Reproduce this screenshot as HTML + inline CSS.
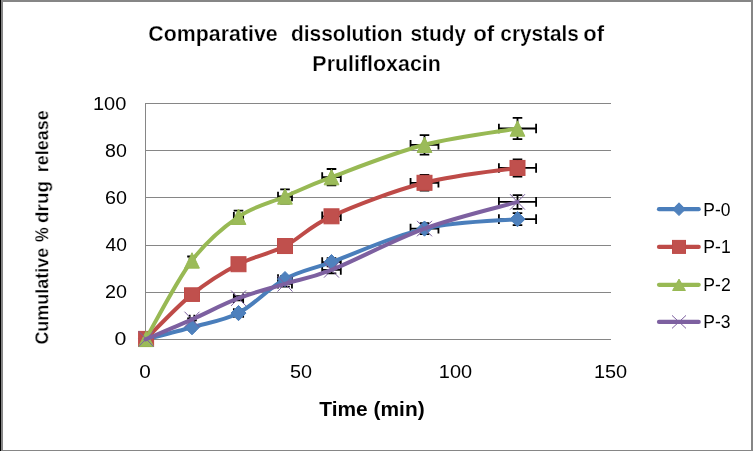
<!DOCTYPE html>
<html><head><meta charset="utf-8"><title>Chart</title>
<style>
html,body{margin:0;padding:0;background:#fff;overflow:hidden}
body{width:753px;height:451px;position:relative;font-family:"Liberation Sans",sans-serif}
</style></head><body>
<svg width="753" height="451" viewBox="0 0 753 451" style="position:absolute;left:0;top:0;font-family:'Liberation Sans',sans-serif">
<defs><filter id="gs" filterUnits="userSpaceOnUse" x="0" y="0" width="753" height="451" color-interpolation-filters="sRGB"><feColorMatrix type="saturate" values="0"/></filter></defs>
<rect x="0" y="0" width="753" height="451" fill="#ffffff"/>
<rect x="0" y="0" width="753" height="2" fill="#868686"/>
<rect x="1" y="0" width="2" height="451" fill="#868686"/>
<rect x="751" y="0" width="2" height="451" fill="#868686"/>
<rect x="0" y="450" width="753" height="1" fill="#868686"/>
<rect x="0" y="0" width="1" height="451" fill="#000000"/>
<line x1="145.5" y1="339.5" x2="611.0" y2="339.5" stroke="#868686" stroke-width="1"/>
<line x1="145.5" y1="292.5" x2="611.0" y2="292.5" stroke="#868686" stroke-width="1"/>
<line x1="145.5" y1="245.5" x2="611.0" y2="245.5" stroke="#868686" stroke-width="1"/>
<line x1="145.5" y1="197.5" x2="611.0" y2="197.5" stroke="#868686" stroke-width="1"/>
<line x1="145.5" y1="150.5" x2="611.0" y2="150.5" stroke="#868686" stroke-width="1"/>
<line x1="145.5" y1="103.5" x2="611.0" y2="103.5" stroke="#868686" stroke-width="1"/>
<line x1="145.5" y1="103.0" x2="145.5" y2="340.0" stroke="#868686" stroke-width="1"/>
<path d="M189.68,327.23 H194.32 M189.68,322.43 V332.03 M194.32,322.43 V332.03 M192.00,326.61 V327.84 M187.20,326.61 H196.80 M187.20,327.84 H196.80 M233.85,313.07 H243.15 M233.85,308.27 V317.87 M243.15,308.27 V317.87 M238.50,311.75 V314.39 M233.70,311.75 H243.30 M233.70,314.39 H243.30 M278.02,279.08 H291.98 M278.02,274.28 V283.88 M291.98,274.28 V283.88 M285.00,276.06 V282.10 M280.20,276.06 H289.80 M280.20,282.10 H289.80 M322.20,262.09 H340.80 M322.20,257.29 V266.89 M340.80,257.29 V266.89 M331.50,258.22 V265.96 M326.70,258.22 H336.30 M326.70,265.96 H336.30 M410.55,228.58 H438.45 M410.55,223.78 V233.38 M438.45,223.78 V233.38 M424.50,223.03 V234.13 M419.70,223.03 H429.30 M419.70,234.13 H429.30 M498.90,219.14 H536.10 M498.90,214.34 V223.94 M536.10,214.34 V223.94 M517.50,213.12 V225.16 M512.70,213.12 H522.30 M512.70,225.16 H522.30 M189.68,294.42 H194.32 M189.68,289.62 V299.22 M194.32,289.62 V299.22 M192.00,292.17 V296.68 M187.20,292.17 H196.80 M187.20,296.68 H196.80 M233.85,264.22 H243.15 M233.85,259.42 V269.02 M243.15,259.42 V269.02 M238.50,260.45 V267.98 M233.70,260.45 H243.30 M233.70,267.98 H243.30 M278.02,246.04 H291.98 M278.02,241.24 V250.84 M291.98,241.24 V250.84 M285.00,241.37 V250.72 M280.20,241.37 H289.80 M280.20,250.72 H289.80 M322.20,216.31 H340.80 M322.20,211.51 V221.11 M340.80,211.51 V221.11 M331.50,210.15 V222.47 M326.70,210.15 H336.30 M326.70,222.47 H336.30 M410.55,182.80 H438.45 M410.55,178.00 V187.60 M438.45,178.00 V187.60 M424.50,174.96 V190.63 M419.70,174.96 H429.30 M419.70,190.63 H429.30 M498.90,167.93 H536.10 M498.90,163.13 V172.73 M536.10,163.13 V172.73 M517.50,159.35 V176.51 M512.70,159.35 H522.30 M512.70,176.51 H522.30 M189.68,260.44 H194.32 M189.68,255.64 V265.24 M194.32,255.64 V265.24 M192.00,256.49 V264.39 M187.20,256.49 H196.80 M187.20,264.39 H196.80 M233.85,216.78 H243.15 M233.85,211.98 V221.58 M243.15,211.98 V221.58 M238.50,210.64 V222.92 M233.70,210.64 H243.30 M233.70,222.92 H243.30 M278.02,196.48 H291.98 M278.02,191.68 V201.28 M291.98,191.68 V201.28 M285.00,189.33 V203.63 M280.20,189.33 H289.80 M280.20,203.63 H289.80 M322.20,177.13 H340.80 M322.20,172.33 V181.93 M340.80,172.33 V181.93 M331.50,169.01 V185.25 M326.70,169.01 H336.30 M326.70,185.25 H336.30 M410.55,144.80 H438.45 M410.55,140.00 V149.60 M438.45,140.00 V149.60 M424.50,135.06 V154.54 M419.70,135.06 H429.30 M419.70,154.54 H429.30 M498.90,128.52 H536.10 M498.90,123.72 V133.32 M536.10,123.72 V133.32 M517.50,117.97 V139.07 M512.70,117.97 H522.30 M512.70,139.07 H522.30 M189.68,319.44 H194.32 M189.68,314.64 V324.24 M194.32,314.64 V324.24 M192.00,318.44 V320.44 M187.20,318.44 H196.80 M187.20,320.44 H196.80 M233.85,298.20 H243.15 M233.85,293.40 V303.00 M243.15,293.40 V303.00 M238.50,296.13 V300.26 M233.70,296.13 H243.30 M233.70,300.26 H243.30 M278.02,283.80 H291.98 M278.02,279.00 V288.60 M291.98,279.00 V288.60 M285.00,281.02 V286.59 M280.20,281.02 H289.80 M280.20,286.59 H289.80 M322.20,269.88 H340.80 M322.20,265.08 V274.68 M340.80,265.08 V274.68 M331.50,266.40 V273.36 M326.70,266.40 H336.30 M326.70,273.36 H336.30 M410.55,228.58 H438.45 M410.55,223.78 V233.38 M438.45,223.78 V233.38 M424.50,223.03 V234.13 M419.70,223.03 H429.30 M419.70,234.13 H429.30 M498.90,201.91 H536.10 M498.90,197.11 V206.71 M536.10,197.11 V206.71 M517.50,195.03 V208.79 M512.70,195.03 H522.30 M512.70,208.79 H522.30" fill="none" stroke="#000" stroke-width="1.8"/>
<path d="M145.50,339.50 C153.25,337.45 176.50,331.63 192.00,327.23 C207.50,322.82 223.00,321.09 238.50,313.07 C254.00,305.04 269.50,287.58 285.00,279.08 C300.50,270.59 308.25,270.51 331.50,262.09 C354.75,253.67 393.50,235.74 424.50,228.58 C455.50,221.42 502.00,220.71 517.50,219.14" fill="none" stroke="#4A7EBB" stroke-width="4" stroke-linecap="round" stroke-linejoin="round"/>
<path d="M146.10,331.30 L153.60,338.90 L146.10,346.50 L138.60,338.90 Z" fill="#4F81BD" stroke="#4A7EBB" stroke-width="1" stroke-linejoin="miter"/>
<path d="M192.00,319.63 L199.50,327.23 L192.00,334.83 L184.50,327.23 Z" fill="#4F81BD" stroke="#4A7EBB" stroke-width="1" stroke-linejoin="miter"/>
<path d="M238.50,305.47 L246.00,313.07 L238.50,320.67 L231.00,313.07 Z" fill="#4F81BD" stroke="#4A7EBB" stroke-width="1" stroke-linejoin="miter"/>
<path d="M285.00,271.48 L292.50,279.08 L285.00,286.68 L277.50,279.08 Z" fill="#4F81BD" stroke="#4A7EBB" stroke-width="1" stroke-linejoin="miter"/>
<path d="M331.50,254.49 L339.00,262.09 L331.50,269.69 L324.00,262.09 Z" fill="#4F81BD" stroke="#4A7EBB" stroke-width="1" stroke-linejoin="miter"/>
<path d="M424.50,220.98 L432.00,228.58 L424.50,236.18 L417.00,228.58 Z" fill="#4F81BD" stroke="#4A7EBB" stroke-width="1" stroke-linejoin="miter"/>
<path d="M517.50,211.54 L525.00,219.14 L517.50,226.74 L510.00,219.14 Z" fill="#4F81BD" stroke="#4A7EBB" stroke-width="1" stroke-linejoin="miter"/>
<path d="M145.50,339.50 C153.25,331.99 176.50,306.97 192.00,294.42 C207.50,281.88 223.00,272.28 238.50,264.22 C254.00,256.15 269.50,254.03 285.00,246.04 C300.50,238.06 308.25,226.85 331.50,216.31 C354.75,205.77 393.50,190.86 424.50,182.80 C455.50,174.73 502.00,170.41 517.50,167.93" fill="none" stroke="#BE4B48" stroke-width="4" stroke-linecap="round" stroke-linejoin="round"/>
<rect x="138.60" y="331.40" width="15.00" height="15.00" fill="#C0504D" stroke="#BE4B48" stroke-width="1"/>
<rect x="184.50" y="287.82" width="15.00" height="13.60" fill="#C0504D" stroke="#BE4B48" stroke-width="1"/>
<rect x="231.00" y="256.72" width="15.00" height="15.00" fill="#C0504D" stroke="#BE4B48" stroke-width="1"/>
<rect x="277.50" y="238.54" width="15.00" height="15.00" fill="#C0504D" stroke="#BE4B48" stroke-width="1"/>
<rect x="324.00" y="208.81" width="15.00" height="15.00" fill="#C0504D" stroke="#BE4B48" stroke-width="1"/>
<rect x="417.00" y="175.30" width="15.00" height="15.00" fill="#C0504D" stroke="#BE4B48" stroke-width="1"/>
<rect x="510.00" y="160.43" width="15.00" height="15.00" fill="#C0504D" stroke="#BE4B48" stroke-width="1"/>
<path d="M145.50,339.50 C153.25,326.32 176.50,280.89 192.00,260.44 C207.50,239.99 223.00,227.44 238.50,216.78 C254.00,206.12 269.50,203.09 285.00,196.48 C300.50,189.88 308.25,185.75 331.50,177.13 C354.75,168.52 393.50,152.90 424.50,144.80 C455.50,136.70 502.00,131.23 517.50,128.52" fill="none" stroke="#98B954" stroke-width="4" stroke-linecap="round" stroke-linejoin="round"/>
<path d="M146.10,331.20 L153.50,346.60 L138.70,346.60 Z" fill="#9BBB59" stroke="#98B954" stroke-width="1"/>
<path d="M192.00,252.74 L199.40,268.14 L184.60,268.14 Z" fill="#9BBB59" stroke="#98B954" stroke-width="1"/>
<path d="M238.50,209.08 L245.90,224.48 L231.10,224.48 Z" fill="#9BBB59" stroke="#98B954" stroke-width="1"/>
<path d="M285.00,188.78 L292.40,204.18 L277.60,204.18 Z" fill="#9BBB59" stroke="#98B954" stroke-width="1"/>
<path d="M331.50,169.43 L338.90,184.83 L324.10,184.83 Z" fill="#9BBB59" stroke="#98B954" stroke-width="1"/>
<path d="M424.50,137.10 L431.90,152.50 L417.10,152.50 Z" fill="#9BBB59" stroke="#98B954" stroke-width="1"/>
<path d="M517.50,120.82 L524.90,136.22 L510.10,136.22 Z" fill="#9BBB59" stroke="#98B954" stroke-width="1"/>
<path d="M145.50,339.50 C153.25,336.16 176.50,326.32 192.00,319.44 C207.50,312.56 223.00,304.14 238.50,298.20 C254.00,292.26 269.50,288.52 285.00,283.80 C300.50,279.08 308.25,279.08 331.50,269.88 C354.75,260.68 393.50,239.91 424.50,228.58 C455.50,217.25 502.00,206.36 517.50,201.91" fill="none" stroke="#7D60A0" stroke-width="4" stroke-linecap="round" stroke-linejoin="round"/>
<path d="M138.60,331.15 L153.60,346.65 M138.60,346.65 L153.60,331.15" fill="none" stroke="#7D60A0" stroke-width="1"/>
<path d="M184.50,311.69 L199.50,327.19 M184.50,327.19 L199.50,311.69" fill="none" stroke="#7D60A0" stroke-width="1"/>
<path d="M231.00,290.45 L246.00,305.95 M231.00,305.95 L246.00,290.45" fill="none" stroke="#7D60A0" stroke-width="1"/>
<path d="M277.50,276.05 L292.50,291.55 M277.50,291.55 L292.50,276.05" fill="none" stroke="#7D60A0" stroke-width="1"/>
<path d="M324.00,262.13 L339.00,277.63 M324.00,277.63 L339.00,262.13" fill="none" stroke="#7D60A0" stroke-width="1"/>
<path d="M417.00,220.83 L432.00,236.33 M417.00,236.33 L432.00,220.83" fill="none" stroke="#7D60A0" stroke-width="1"/>
<path d="M510.00,194.16 L525.00,209.66 M510.00,209.66 L525.00,194.16" fill="none" stroke="#7D60A0" stroke-width="1"/>
<line x1="659" y1="209.2" x2="698.7" y2="209.2" stroke="#4A7EBB" stroke-width="4.2" stroke-linecap="round"/>
<path d="M679.00,202.80 L685.30,209.20 L679.00,215.60 L672.70,209.20 Z" fill="#4F81BD" stroke="#4A7EBB" stroke-width="1" stroke-linejoin="miter"/>
<line x1="659" y1="246.9" x2="698.7" y2="246.9" stroke="#BE4B48" stroke-width="4.2" stroke-linecap="round"/>
<rect x="672.50" y="240.40" width="13.00" height="13.00" fill="#C0504D" stroke="#BE4B48" stroke-width="1"/>
<line x1="659" y1="284.8" x2="698.7" y2="284.8" stroke="#98B954" stroke-width="4.2" stroke-linecap="round"/>
<path d="M679.00,279.10 L685.40,290.50 L672.60,290.50 Z" fill="#9BBB59" stroke="#98B954" stroke-width="1"/>
<line x1="659" y1="321.9" x2="698.7" y2="321.9" stroke="#7D60A0" stroke-width="4.2" stroke-linecap="round"/>
<path d="M672.00,315.40 L686.00,328.40 M672.00,328.40 L686.00,315.40" fill="none" stroke="#7D60A0" stroke-width="1"/>
<g filter="url(#gs)">
<text x="114.55" y="345.15" font-size="17.60" textLength="11.88" lengthAdjust="spacingAndGlyphs" fill="#000">0</text>
<text x="104.91" y="298.05" font-size="17.60" textLength="21.97" lengthAdjust="spacingAndGlyphs" fill="#000">20</text>
<text x="105.47" y="250.75" font-size="17.60" textLength="21.40" lengthAdjust="spacingAndGlyphs" fill="#000">40</text>
<text x="104.91" y="203.75" font-size="17.60" textLength="21.97" lengthAdjust="spacingAndGlyphs" fill="#000">60</text>
<text x="105.07" y="157.05" font-size="17.60" textLength="21.81" lengthAdjust="spacingAndGlyphs" fill="#000">80</text>
<text x="92.90" y="109.55" font-size="17.60" textLength="33.37" lengthAdjust="spacingAndGlyphs" fill="#000">100</text>
<text x="139.37" y="378.05" font-size="17.60" textLength="11.53" lengthAdjust="spacingAndGlyphs" fill="#000">0</text>
<text x="290.01" y="378.05" font-size="17.60" textLength="22.09" lengthAdjust="spacingAndGlyphs" fill="#000">50</text>
<text x="438.80" y="378.05" font-size="17.60" textLength="33.26" lengthAdjust="spacingAndGlyphs" fill="#000">100</text>
<text x="593.90" y="378.05" font-size="17.60" textLength="33.26" lengthAdjust="spacingAndGlyphs" fill="#000">150</text>
<text x="148.35" y="40.70" font-size="21.30" font-weight="bold" stroke="#fff" stroke-width="0.25" textLength="129.35" lengthAdjust="spacingAndGlyphs" fill="#000">Comparative</text>
<text x="290.96" y="40.70" font-size="21.30" font-weight="bold" stroke="#fff" stroke-width="0.25" textLength="111.71" lengthAdjust="spacingAndGlyphs" fill="#000">dissolution</text>
<text x="410.47" y="40.70" font-size="21.30" font-weight="bold" stroke="#fff" stroke-width="0.25" textLength="55.58" lengthAdjust="spacingAndGlyphs" fill="#000">study</text>
<text x="473.21" y="40.70" font-size="21.30" font-weight="bold" stroke="#fff" stroke-width="0.25" textLength="21.07" lengthAdjust="spacingAndGlyphs" fill="#000">of</text>
<text x="500.37" y="40.70" font-size="21.30" font-weight="bold" stroke="#fff" stroke-width="0.25" textLength="78.58" lengthAdjust="spacingAndGlyphs" fill="#000">crystals</text>
<text x="583.22" y="40.70" font-size="21.30" font-weight="bold" stroke="#fff" stroke-width="0.25" textLength="20.75" lengthAdjust="spacingAndGlyphs" fill="#000">of</text>
<text x="312.36" y="70.60" font-size="21.30" font-weight="bold" stroke="#fff" stroke-width="0.25" textLength="128.47" lengthAdjust="spacingAndGlyphs" fill="#000">Prulifloxacin</text>
<text x="319.34" y="416.40" font-size="20.60" font-weight="bold" textLength="105.31" lengthAdjust="spacingAndGlyphs" fill="#000">Time (min)</text>
<g transform="translate(48.2,344) rotate(-90)">
<text x="-0.62" y="0.00" font-size="17.60" font-weight="bold" stroke="#fff" stroke-width="0.25" textLength="96.91" lengthAdjust="spacingAndGlyphs" fill="#000">Cumulative</text>
<text x="102.09" y="0.00" font-size="17.60" font-weight="bold" stroke="#fff" stroke-width="0.25" textLength="14.65" lengthAdjust="spacingAndGlyphs" fill="#000">%</text>
<text x="121.05" y="0.00" font-size="17.60" font-weight="bold" stroke="#fff" stroke-width="0.25" textLength="41.91" lengthAdjust="spacingAndGlyphs" fill="#000">drug</text>
<text x="171.83" y="0.00" font-size="17.60" font-weight="bold" stroke="#fff" stroke-width="0.25" textLength="61.96" lengthAdjust="spacingAndGlyphs" fill="#000">release</text>
</g>
<text x="703.36" y="215.70" font-size="17.80" textLength="27.11" lengthAdjust="spacingAndGlyphs" fill="#000">P-0</text>
<text x="703.35" y="253.40" font-size="17.80" textLength="27.30" lengthAdjust="spacingAndGlyphs" fill="#000">P-1</text>
<text x="703.35" y="291.30" font-size="17.80" textLength="27.35" lengthAdjust="spacingAndGlyphs" fill="#000">P-2</text>
<text x="703.36" y="328.40" font-size="17.80" textLength="27.21" lengthAdjust="spacingAndGlyphs" fill="#000">P-3</text>
</g>
</svg>
</body></html>
